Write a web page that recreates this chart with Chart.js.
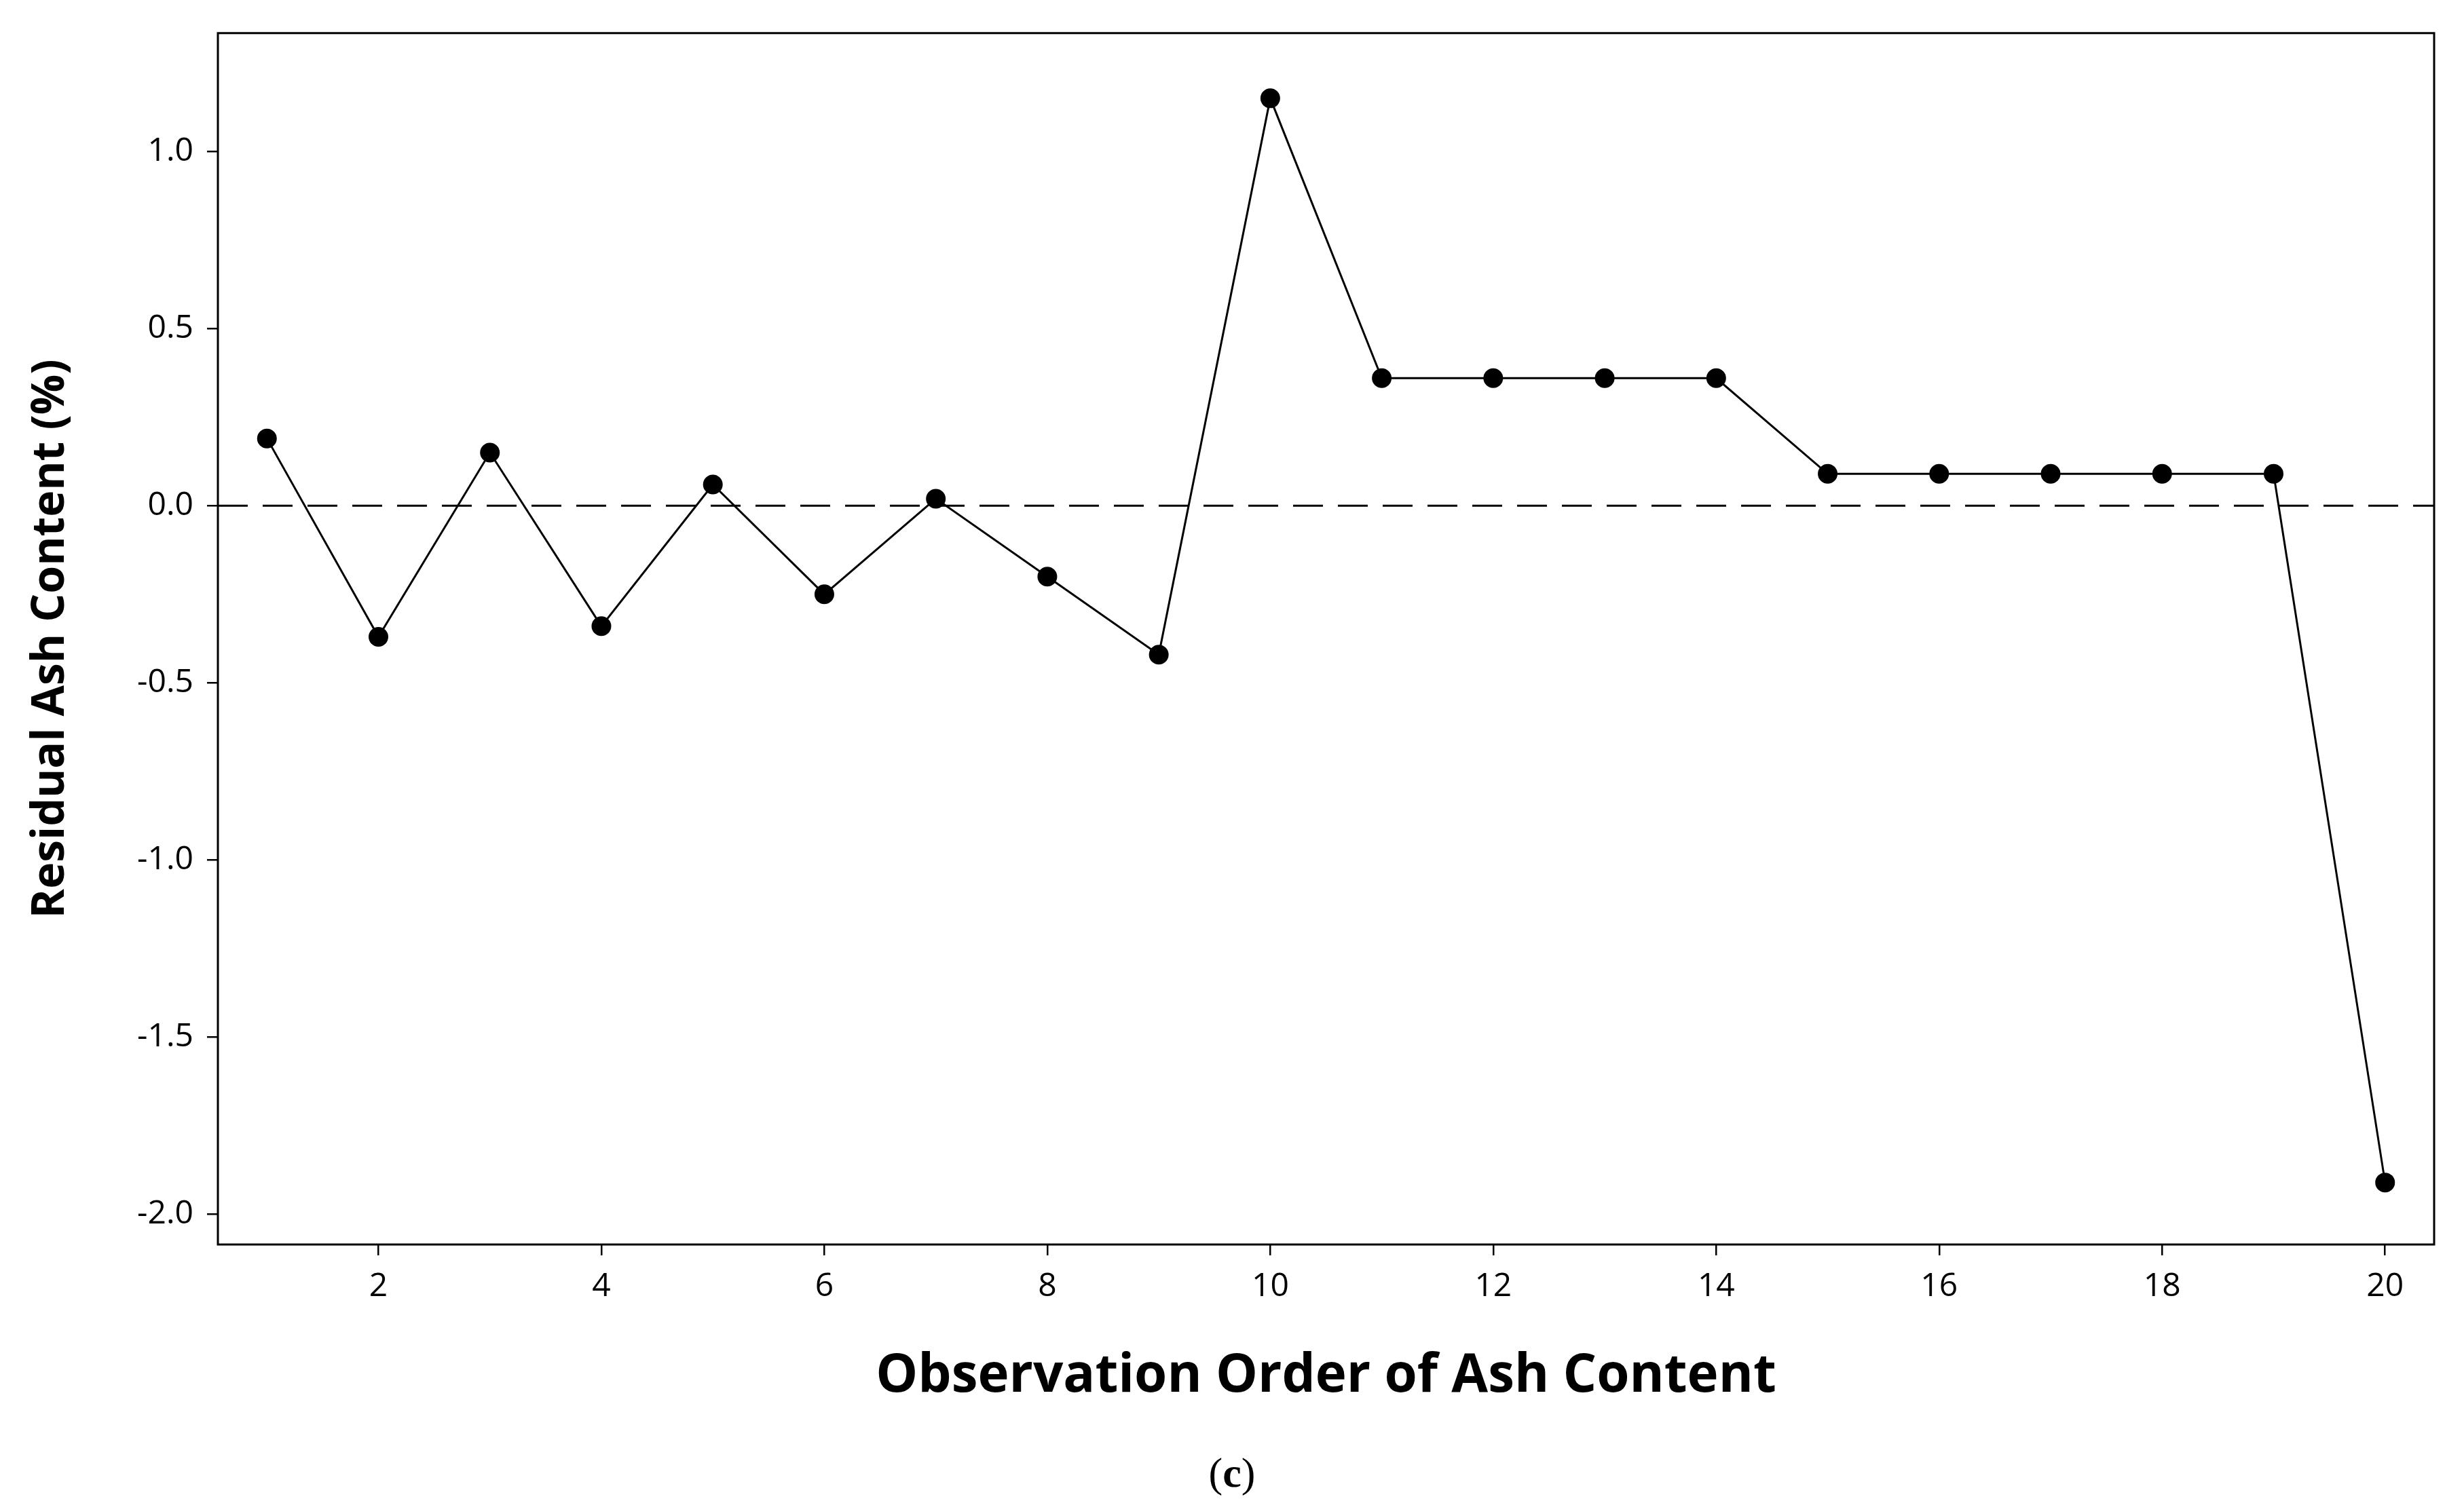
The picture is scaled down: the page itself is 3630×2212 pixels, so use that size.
<!DOCTYPE html>
<html>
<head>
<meta charset="utf-8">
<script src="https://cdn.jsdelivr.net/npm/chart.js@4/dist/chart.umd.min.js"></script>
<style>
  html, body { margin: 0; padding: 0; background: #fff; }
  #wrap { position: relative; width: 3630px; height: 2212px; }
  #caption { position: absolute; left: 0; width: 3630px; top: 2135px; text-align: center;
             font-family: "Liberation Serif", serif; font-size: 62px; color: #000; }
</style>
</head>
<body>
<div id="wrap">
  <canvas id="chart" width="3630" height="2212"></canvas>
  <div id="caption">(<b>c</b>)</div>
</div>
<script>
// observation order and residuals
const order = [1, 2, 3, 4, 5, 6, 7, 8, 9, 10, 11, 12, 13, 14, 15, 16, 17, 18, 19, 20];
const residuals = [0.19, -0.37, 0.15, -0.34, 0.06, -0.25, 0.02, -0.20, -0.42, 1.15,
                   0.36, 0.36, 0.36, 0.36, 0.09, 0.09, 0.09, 0.09, 0.09, -1.91];
const xTicks = [2, 4, 6, 8, 10, 12, 14, 16, 18, 20];
const yTicks = [-2.0, -1.5, -1.0, -0.5, 0.0, 0.5, 1.0];

// dashed zero line + frame around plot
const extras = {
    id: "extras",
    afterDatasetsDraw(chart) {
        const { ctx, chartArea: a, scales } = chart;
        const y0 = scales.y.getPixelForValue(0);
        ctx.save();
        ctx.strokeStyle = "#000";
        ctx.lineWidth = 3;
        ctx.setLineDash([44, 22]);
        ctx.beginPath();
        ctx.moveTo(a.left, y0);
        ctx.lineTo(a.right, y0);
        ctx.stroke();
        ctx.setLineDash([]);
        ctx.strokeRect(a.left, a.top, a.right - a.left, a.bottom - a.top);
        ctx.restore();
    }
};

new Chart(document.getElementById("chart").getContext("2d"), {
    type: "scatter",
    data: {
        datasets: [{
            data: order.map((o, i) => ({ x: o, y: residuals[i] })),
            showLine: true,
            borderColor: "#000",
            backgroundColor: "#000",
            borderWidth: 3,
            pointRadius: 13,
            tension: 0
        }]
    },
    options: {
        responsive: false,
        animation: false,
        layout: { padding: { top: 47, right: 44, left: 0, bottom: 0 } },
        plugins: { legend: { display: false }, tooltip: { enabled: false } },
        scales: {
            x: {
                min: 0.56, max: 20.44,
                afterBuildTicks: s => { s.ticks = xTicks.map(v => ({ value: v })); },
                afterFit: s => { s.height = 378; },
                grid: { drawOnChartArea: false, color: "#000", tickLength: 16, lineWidth: 2.5 },
                border: { display: false },
                ticks: { color: "#000", padding: 18, font: { family: "Open Sans", size: 48 } },
                title: { display: true, text: "Observation Order of Ash Content", color: "#000",
                         padding: { top: 0, bottom: 136 },
                         font: { family: "Open Sans", size: 78, weight: "bold" } }
            },
            y: {
                min: -2.085, max: 1.334,
                afterBuildTicks: s => { s.ticks = yTicks.map(v => ({ value: v })); },
                afterFit: s => { s.width = 321; },
                grid: { drawOnChartArea: false, color: "#000", tickLength: 16, lineWidth: 2.5 },
                border: { display: false },
                ticks: { color: "#000", padding: 20, font: { family: "Open Sans", size: 48 },
                         callback: v => v.toFixed(1) },
                title: { display: true, text: "Residual Ash Content (%)", color: "#000",
                         padding: { top: 36, bottom: 0 },
                         font: { family: "Open Sans", size: 66, weight: "bold" } }
            }
        }
    },
    plugins: [extras]
});
</script>
</body>
</html>
